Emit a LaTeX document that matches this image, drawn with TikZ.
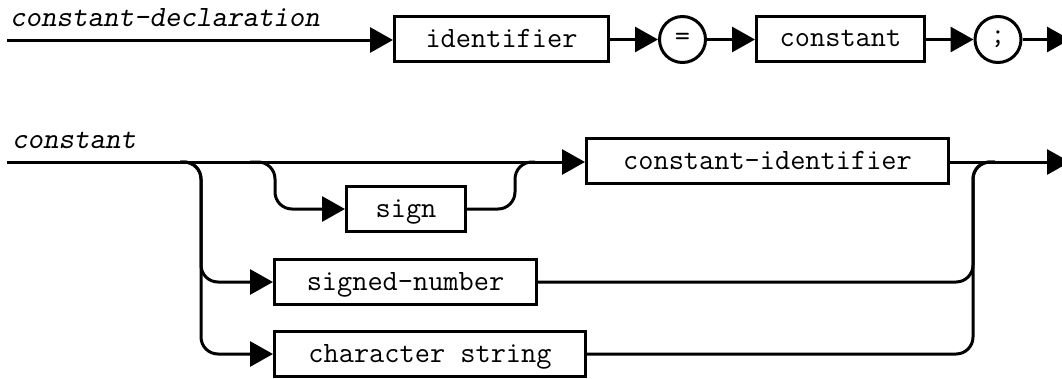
\documentclass[tikz,border=0pt]{standalone}
\usepackage{fontspec}
\usetikzlibrary{arrows.meta}
\begin{document}
\begin{tikzpicture}[x=1pt,y=-1pt,
  conn/.style={line width=3pt},
  arr/.style={conn,-{Triangle[length=23pt,width=25pt]}},
  txtfont/.style={font=\ttfamily\fontsize{29.5}{33}\selectfont},
  box/.style={draw,line width=3pt,inner sep=0pt,txtfont,text height=20pt,text depth=4pt,minimum height=45pt},
  term/.style={draw,circle,line width=3pt,inner sep=0pt,txtfont,minimum size=46pt},
  lab/.style={font=\ttfamily\slshape\fontsize{29.5}{33}\selectfont,inner sep=0pt,anchor=base west},
  rc/.style={rounded corners=17pt}]
\useasboundingbox (0,0) rectangle (1062,378);
\clip (0,0) rectangle (1062,378);

% ---------- constant-declaration ----------
\node[lab] (l1) at (10,26.5) {constant-declaration};
\coordinate (s1) at (7,40);
\node[box,minimum width=214pt] (id) at (501.5,39) {identifier};
\node[term] (eq) at (682.5,39.5) {=};
\node[box,minimum width=168pt] (cst) at (840.5,38.5) {constant};
\node[term] (semi) at (998,39.5) {;};
\coordinate (e1) at (1070,40);

\draw[arr] (s1) -- (s1 -| id.west);
\draw[arr] (id.east |- eq) -- (eq.west);
\draw[arr] (eq.east) -- (eq -| cst.west);
\draw[arr] (cst.east |- semi) -- (semi.west);
\draw[arr] (semi.east) -- (semi -| e1);

% ---------- constant ----------
\node[lab] (l2) at (12,148.5) {constant};
\coordinate (s2) at (7,162);
\node[box,minimum width=362pt] (cid) at (767.5,161) {constant-identifier};
\node[box,minimum width=119pt] (sign) at (406,209) {sign};
\node[box,minimum width=262pt] (snum) at (405.5,282) {signed-number};
\node[box,minimum width=311pt] (cstr) at (430,354) {character string};
\coordinate (e2) at (1070,162);

% branch points
\coordinate (bl) at (180,162);   % left split
\coordinate (bs) at (250,162);   % sign split
\coordinate (ms) at (535,162);   % sign merge
\coordinate (mr) at (995,162);   % right merge
\coordinate (xl) at (201,0);
\coordinate (xs) at (275,0);
\coordinate (xm) at (515,0);
\coordinate (xr) at (973,0);

% main line
\draw[arr] (s2) -- (s2 -| cid.west);
\draw[arr] (cid.east |- e2) -- (e2);

% optional sign
\draw[arr,rc] (bs) -- (bs -| xs) -- (xs |- sign) -- (sign.west);
\draw[conn,rc] (sign.east) -- (sign -| xm) -- (xm |- ms) -- (ms);

% left branch
\draw[arr,rc] (bl) -- (bl -| xl) -- (xl |- snum) -- (snum.west);
\draw[arr,rc] (bl) -- (bl -| xl) -- (xl |- cstr) -- (cstr.west);

% right merge
\draw[conn,rc] (snum.east) -- (snum -| xr) -- (xr |- mr) -- (mr);
\draw[conn,rc] (cstr.east) -- (cstr -| xr) -- (xr |- mr) -- (mr);
\end{tikzpicture}
\end{document}
